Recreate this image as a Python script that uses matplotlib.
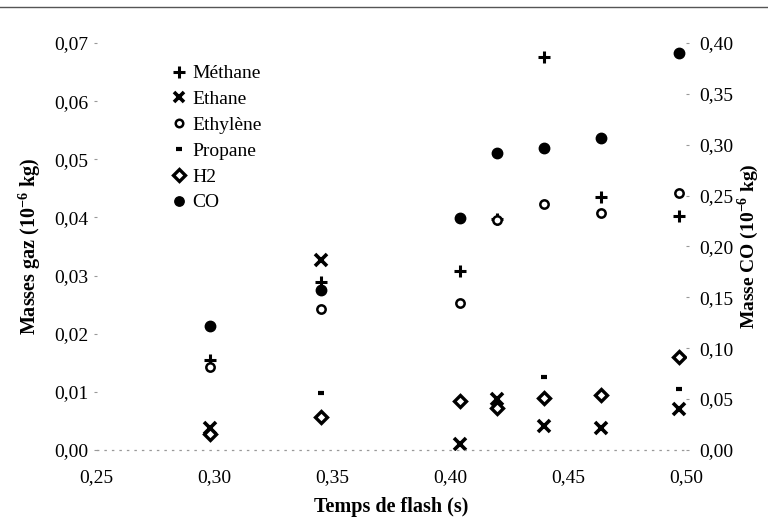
import matplotlib
matplotlib.use("Agg")
import matplotlib.pyplot as plt
import numpy as np
from matplotlib.lines import Line2D
from matplotlib.ticker import FuncFormatter, MultipleLocator

plt.rcParams['font.family'] = ['Liberation Serif', 'DejaVu Serif']
plt.rcParams['mathtext.fontset'] = 'custom'
plt.rcParams['mathtext.rm'] = 'Liberation Serif'
plt.rcParams['mathtext.bf'] = 'Liberation Serif:bold'

# Flash duration (s)
temps = [0.298, 0.345, 0.404, 0.420, 0.440, 0.464, 0.497]

# Gas masses (10^-6 kg), left axis
methane = [0.0155, 0.0289, 0.0308, 0.0398, 0.0676, 0.0435, 0.0402]
ethane = [0.0037, 0.0327, 0.0011, 0.0088, 0.0041, 0.0038, 0.0070]
ethylene = [0.0143, 0.0243, 0.0253, 0.0396, 0.0423, 0.0408, 0.0442]
propane = [np.nan, 0.0098, np.nan, np.nan, 0.0126, np.nan, 0.0105]
h2 = [0.0027, 0.0057, 0.0084, 0.0072, 0.0089, 0.0095, 0.0160]

# CO mass (10^-6 kg), right axis
co = [0.122, 0.157, 0.228, 0.292, 0.297, 0.307, 0.390]

fig = plt.figure(figsize=(7.68, 5.25), dpi=100)
ax = fig.add_axes([0.126, 0.143, 0.767, 0.775])
ax2 = ax.twinx()

ax.plot(temps, methane, ls='none', marker='+', ms=9, mew=2.2, color='black', label='Méthane')
ax.plot(temps, ethane, ls='none', marker='x', ms=8, mew=2.6, color='black', label='Ethane')
ax.plot(temps, ethylene, ls='none', marker='o', ms=6, mew=1.8, mfc='white', color='black', label='Ethylène')
ax.plot(temps, propane, ls='none', marker='_', ms=5, mew=3, color='black', label='Propane')
ax.plot(temps, h2, ls='none', marker='D', ms=6.5, mew=2.4, mfc='white', color='black', label='H2')
ax2.plot(temps, co, ls='none', marker='o', ms=7.5, color='black', label='CO')

ax.set_xlim(0.25, 0.50)
ax.set_ylim(0, 0.07)
ax2.set_ylim(0, 0.40)

fmt = FuncFormatter(lambda v, p: f'{v:.2f}'.replace('.', ','))
ax.xaxis.set_major_locator(MultipleLocator(0.05))
ax.yaxis.set_major_locator(MultipleLocator(0.01))
ax2.yaxis.set_major_locator(MultipleLocator(0.05))
ax.xaxis.set_major_formatter(fmt)
ax.yaxis.set_major_formatter(fmt)
ax2.yaxis.set_major_formatter(fmt)

for a in (ax, ax2):
    for s in ('top', 'left', 'right', 'bottom'):
        a.spines[s].set_visible(False)
ax.spines['bottom'].set_visible(True)
ax.spines['bottom'].set_color('#999999')
ax.spines['bottom'].set_linestyle((0, (1, 5)))
ax.spines['bottom'].set_linewidth(0.9)

ax.tick_params(axis='x', length=0, pad=14, labelsize=14)
ax.tick_params(axis='y', length=2, width=0.8, color='#999999', pad=4, labelsize=14)
ax2.tick_params(axis='y', length=2, width=0.8, color='#999999', pad=8, labelsize=14)

ax.set_xlabel('Temps de flash (s)', fontsize=14.5, fontweight='bold', labelpad=8)
ax.set_ylabel(r'Masses gaz (10$^{\mathbf{-6}}$ kg)', fontsize=14.5, fontweight='bold', labelpad=8)
ax2.set_ylabel(r'Masse CO (10$^{\mathbf{-6}}$ kg)', fontsize=14, fontweight='bold', labelpad=1)

h1, l1 = ax.get_legend_handles_labels()
h2_, l2 = ax2.get_legend_handles_labels()
ax.legend(h1 + h2_, l1 + l2, loc='upper left', bbox_to_anchor=(0.212, 0.895),
          bbox_transform=fig.transFigure, frameon=False, fontsize=14,
          handlelength=0.7, handletextpad=0.3, labelspacing=0.42,
          borderpad=0, markerscale=0.9)

# scanned page rule at the top
fig.add_artist(Line2D([0, 1], [0.987, 0.987], transform=fig.transFigure,
                      color='#555555', lw=1.0))

fig.savefig('out.png', dpi=100)
